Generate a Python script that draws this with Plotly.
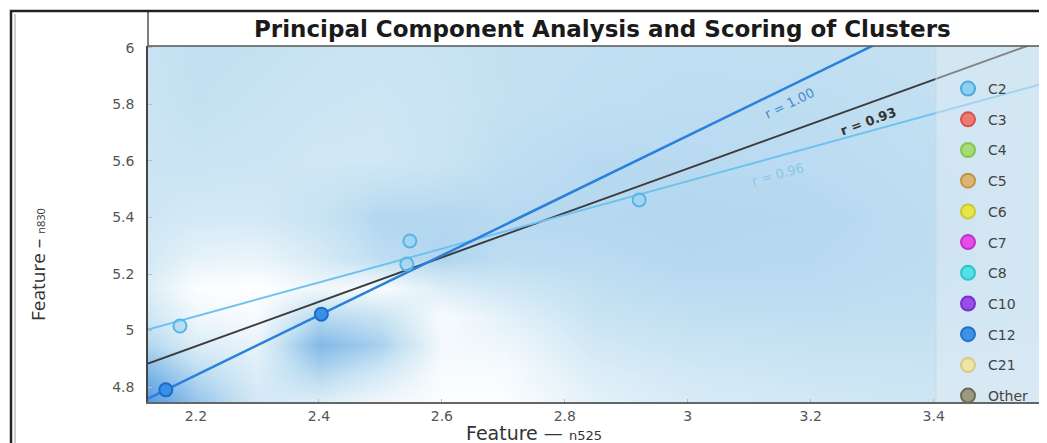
import numpy as np
import plotly.graph_objects as go

# ---------------- data ----------------
c2_x = [2.174, 2.548, 2.543, 2.921]
c2_y = [5.016, 5.317, 5.235, 5.462]
c12_x = [2.151, 2.404]
c12_y = [4.790, 5.058]

legend_names = ["C2", "C3", "C4", "C5", "C6", "C7", "C8", "C10", "C12", "C21", "Other"]
legend_fill = ["#8fd0f2", "#ee7b72", "#a6dc74", "#dcb66e", "#e6e648", "#e64ce6",
               "#52e2e6", "#9a4ee6", "#3f92e6", "#efe6a6", "#9c9a82"]
legend_edge = ["#4fa9dc", "#d4544c", "#84c452", "#c09448", "#caca2a", "#c42ec4",
               "#30c4c8", "#7a2ec8", "#2070c8", "#d8cc84", "#6e6c58"]

r_labels = ["r = 1.00", "r = 0.93", "r = 0.96"]

# background density field (rows: y, cols: x)
bg_x = [2.12, 2.2, 2.3, 2.4, 2.5, 2.6, 2.7, 2.85, 3.0, 3.2, 3.4, 3.58]
bg_y = [4.75, 4.85, 4.95, 5.05, 5.15, 5.25, 5.4, 5.6, 5.8, 6.01]
bg_z = [
    [0.80, 0.50, 0.22, 0.18, 0.08, 0.02, 0.02, 0.14, 0.20, 0.23, 0.25, 0.26],
    [0.60, 0.35, 0.18, 0.38, 0.22, 0.03, 0.04, 0.18, 0.23, 0.26, 0.27, 0.27],
    [0.38, 0.18, 0.12, 0.58, 0.42, 0.06, 0.08, 0.23, 0.27, 0.29, 0.29, 0.28],
    [0.25, 0.08, 0.04, 0.35, 0.28, 0.04, 0.14, 0.28, 0.31, 0.32, 0.31, 0.30],
    [0.18, 0.02, 0.00, 0.08, 0.03, 0.18, 0.24, 0.31, 0.34, 0.34, 0.32, 0.30],
    [0.22, 0.12, 0.10, 0.20, 0.32, 0.38, 0.33, 0.34, 0.36, 0.35, 0.33, 0.30],
    [0.25, 0.22, 0.22, 0.28, 0.37, 0.37, 0.35, 0.36, 0.37, 0.36, 0.33, 0.30],
    [0.26, 0.27, 0.26, 0.24, 0.24, 0.27, 0.32, 0.35, 0.35, 0.34, 0.32, 0.30],
    [0.27, 0.30, 0.28, 0.26, 0.25, 0.27, 0.30, 0.32, 0.33, 0.33, 0.31, 0.30],
    [0.28, 0.31, 0.30, 0.28, 0.27, 0.28, 0.30, 0.31, 0.32, 0.31, 0.30, 0.30],
]

x_range = [2.122, 3.573]
y_range = [4.747, 6.007]

# ---------------- fits ----------------
xs_line = np.array(x_range)
p12 = np.polyfit(c12_x, c12_y, 1)
p2 = np.polyfit(c2_x, c2_y, 1)
pall = np.polyfit(c2_x + c12_x, c2_y + c12_y, 1)

PW, PH = 892, 356

fig = go.Figure()

fig.add_trace(go.Heatmap(
    x=bg_x, y=bg_y, z=bg_z, zmin=0, zmax=1, zsmooth="best", showscale=False,
    hoverinfo="skip",
    colorscale=[[0, "#ffffff"], [0.3, "#c4e1f2"], [0.6, "#7db6e8"], [1, "#2c7ed8"]],
))

fig.add_trace(go.Scatter(x=xs_line, y=np.polyval(pall, xs_line), mode="lines",
                         line=dict(color="#3c3c3c", width=2), showlegend=False))
fig.add_trace(go.Scatter(x=xs_line, y=np.polyval(p2, xs_line), mode="lines",
                         line=dict(color="#6fc2ee", width=2), showlegend=False))
fig.add_trace(go.Scatter(x=xs_line, y=np.polyval(p12, xs_line), mode="lines",
                         line=dict(color="#2a80dc", width=2.5), showlegend=False))

fig.add_trace(go.Scatter(x=c2_x, y=c2_y, mode="markers", showlegend=False,
                         marker=dict(size=13, color="rgba(150,210,240,0.55)",
                                     line=dict(color="#58b4e6", width=2))))
fig.add_trace(go.Scatter(x=c12_x, y=c12_y, mode="markers", showlegend=False,
                         marker=dict(size=13, color="#3a90e8",
                                     line=dict(color="#1f6cc4", width=2))))

# legend entries
for i, name in enumerate(legend_names):
    fig.add_trace(go.Scatter(
        x=[None], y=[None], mode="markers", name=name, legendgroup=name,
        marker=dict(size=14, color=legend_fill[i], line=dict(color=legend_edge[i], width=2)),
    ))

# line labels
lab_x = [3.165, 3.293, 3.146]
lab_fits = [p12, pall, p2]
lab_col = ["#4a8ad0", "#333333", "#8cc6ea"]
lab_txt = [r_labels[0], "<b>" + r_labels[1] + "</b>", r_labels[2]]
for lx, pf, txt, col in zip(lab_x, lab_fits, lab_txt, lab_col):
    slope_px = pf[0] * (PH / (y_range[1] - y_range[0])) / (PW / (x_range[1] - x_range[0]))
    ang = -np.degrees(np.arctan(slope_px))
    fig.add_annotation(x=lx, y=np.polyval(pf, lx) - 0.062, text=txt, showarrow=False,
                       textangle=ang, xanchor="center", yanchor="middle",
                       font=dict(family="DejaVu Sans", size=13, color=col))

xp = lambda X: (X - 148) / PW
yp = lambda Y: 1 - (Y - 46) / PH

shapes = [
    # legend panel
    dict(type="rect", xref="paper", yref="paper", x0=xp(936), x1=1.0, y0=0, y1=1,
         fillcolor="rgba(236,240,244,0.4)", line=dict(width=0), layer="above"),
    dict(type="line", xref="paper", yref="paper", x0=xp(936), x1=xp(936),
         y0=0, y1=1, line=dict(color="rgba(205,214,222,0.9)", width=1), layer="above"),
    # title bar bottom line
    dict(type="line", xref="paper", yref="paper", x0=0, x1=1.02, y0=1, y1=1,
         line=dict(color="#555555", width=1.5), layer="above"),
    # title bar left line
    dict(type="line", xref="paper", yref="paper", x0=0, x1=0, y0=1, y1=yp(11),
         line=dict(color="#555555", width=1.5), layer="above"),
    # outer frame
    dict(type="rect", xref="paper", yref="paper", x0=xp(11), x1=1.05,
         y0=-0.2, y1=yp(11), line=dict(color="#222222", width=2.5), layer="above"),
    dict(type="line", xref="paper", yref="paper", x0=xp(15), x1=xp(15),
         y0=-0.2, y1=yp(14), line=dict(color="#999999", width=1), layer="above"),
]

fig.add_annotation(xref="paper", yref="paper", x=xp(602), y=yp(29), xanchor="center", yanchor="middle",
                   text="<b>Principal Component Analysis and Scoring of Clusters</b>",
                   showarrow=False, font=dict(family="DejaVu Sans", size=23, color="#1a1a1a"))
fig.add_annotation(xref="paper", yref="paper", x=xp(534), y=yp(433), xanchor="center", yanchor="middle",
                   text="Feature \u2014 <span style='font-size:13px'>n525</span>",
                   showarrow=False, font=dict(family="DejaVu Sans", size=19, color="#333333"))
fig.add_annotation(xref="paper", yref="paper", x=xp(38), y=yp(265), xanchor="center", yanchor="middle",
                   text="Feature \u2013 <span style='font-size:11px'>n830</span>", textangle=-90,
                   showarrow=False, font=dict(family="Open Sans", size=19, color="#333333"))

fig.update_layout(
    width=1039, height=435,
    margin=dict(l=140, r=7, t=38, b=41),
    paper_bgcolor="white", plot_bgcolor="white",
    shapes=shapes,
    showlegend=True,
    legend=dict(x=xp(948), y=yp(73), xanchor="left", yanchor="top",
                bgcolor="rgba(0,0,0,0)", traceorder="grouped", tracegroupgap=9.5,
                font=dict(family="DejaVu Sans", size=14, color="#444444"),
                itemwidth=30),
    xaxis=dict(range=x_range, tickvals=[2.2, 2.4, 2.6, 2.8, 3, 3.2, 3.4],
               ticktext=["2.2", "2.4", "2.6", "2.8", "3", "3.2", "3.4"],
               showgrid=False, zeroline=False, showline=True, linecolor="#666666", linewidth=1.5,
               ticks="inside", ticklen=3, tickcolor="#bbbbbb", ticklabelstandoff=0,
               tickfont=dict(family="DejaVu Sans", size=14, color="#555555")),
    yaxis=dict(range=y_range, tickvals=[4.8, 5, 5.2, 5.4, 5.6, 5.8, 6],
               ticktext=["4.8", "5", "5.2", "5.4", "5.6", "5.8", "6"],
               showgrid=False, zeroline=False, showline=True, linecolor="#444444", linewidth=1.5,
               ticks="inside", ticklen=4, tickcolor="#bbbbbb", ticklabelstandoff=9,
               tickfont=dict(family="DejaVu Sans", size=14, color="#555555")),
)

fig.write_html("out.html")
